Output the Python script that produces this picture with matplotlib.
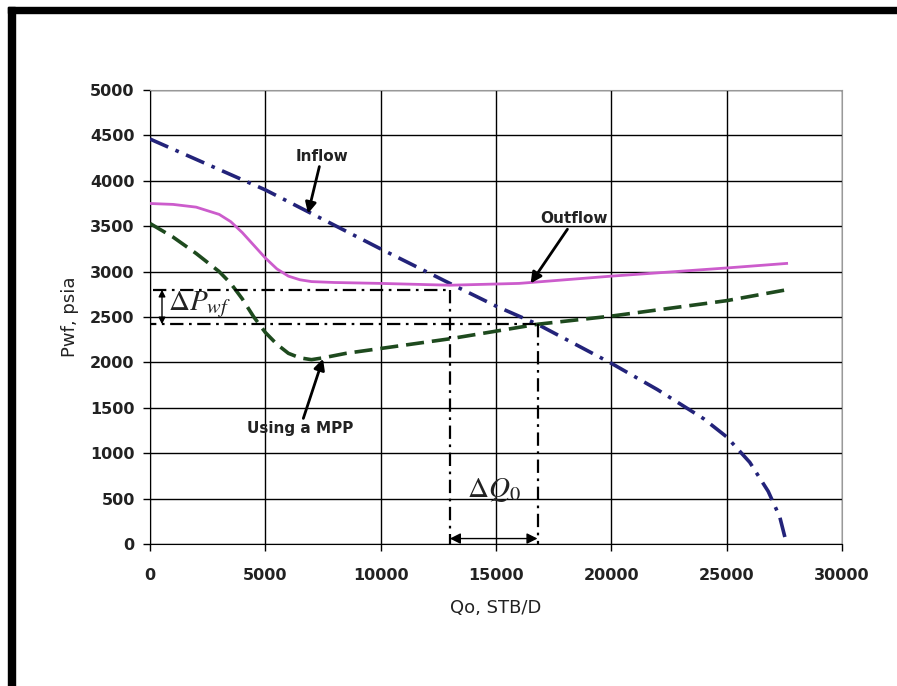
import matplotlib
matplotlib.use("Agg")
import matplotlib.pyplot as plt
from matplotlib.patches import Rectangle

plt.rcParams['font.family'] = ['DejaVu Sans']
plt.rcParams['mathtext.fontset'] = 'stix'

# --- data ---
inflow_q = [0, 2500, 5000, 7000, 10000, 13000, 15000, 16800, 20000, 22000, 24000, 25000, 26000, 26800, 27300, 27600]
inflow_p = [4460, 4180, 3900, 3640, 3250, 2870, 2620, 2420, 1990, 1700, 1380, 1180, 900, 580, 300, 0]

outflow_q = [0, 1000, 2000, 3000, 3500, 4000, 4500, 5000, 5500, 6000, 6500, 7000, 8000, 10000, 13000, 16000, 17000, 20000, 25000, 27600]
outflow_p = [3750, 3740, 3710, 3630, 3550, 3430, 3290, 3150, 3030, 2950, 2910, 2890, 2880, 2870, 2850, 2870, 2890, 2950, 3040, 3090]

mpp_q = [0, 1000, 2000, 3000, 3500, 4000, 4500, 5000, 5500, 6000, 6500, 7000, 7500, 8500, 13000, 16800, 20000, 25000, 27600]
mpp_p = [3530, 3380, 3200, 3000, 2870, 2700, 2500, 2330, 2200, 2100, 2050, 2030, 2050, 2100, 2260, 2420, 2510, 2680, 2800]

q_low, q_high = 13000, 16800
p_high, p_low = 2800, 2420

x_ticks = [0, 5000, 10000, 15000, 20000, 25000, 30000]
y_ticks = [0, 500, 1000, 1500, 2000, 2500, 3000, 3500, 4000, 4500, 5000]

fig = plt.figure(figsize=(8.97, 6.86), dpi=100)
ax = fig.add_axes([150/897, 1-544/686, (842-150)/897, (544-90)/686])

ax.plot(inflow_q, inflow_p, color='#23237A', lw=2.6, linestyle=(0, (5.5, 2.2, 1.0, 2.2)), zorder=4)
ax.plot(outflow_q, outflow_p, color='#CC5CCC', lw=2.0, zorder=4)
ax.plot(mpp_q, mpp_p, color='#1E4A1E', lw=2.6, linestyle=(0, (5, 2.2)), zorder=4)

refstyle = dict(color='black', lw=1.6, linestyle=(0, (6, 2.5, 1.2, 2.5)), zorder=5)
ax.plot([150, q_low], [p_high, p_high], **refstyle)
ax.plot([q_low, q_low], [p_high, 0], **refstyle)
ax.plot([-300, q_high], [p_low, p_low], **refstyle)
ax.plot([q_high, q_high], [p_low, 0], **refstyle)

# delta arrows
ax.annotate('', xy=(520, p_low), xytext=(520, p_high),
            arrowprops=dict(arrowstyle='<|-|>', color='black', lw=1.0, mutation_scale=10,
                            shrinkA=0, shrinkB=0), zorder=6)
ax.annotate('', xy=(q_high, 60), xytext=(q_low, 60),
            arrowprops=dict(arrowstyle='<|-|>', color='black', lw=1.0, mutation_scale=16,
                            shrinkA=0, shrinkB=0), zorder=6)
ax.text(2150, 2640, r'$\Delta P_{wf}$', fontsize=21, ha='center', va='center', color='#222222', zorder=6)
ax.text(14900, 600, r'$\Delta Q_{0}$', fontsize=21, ha='center', va='center', color='#222222', zorder=6)

# annotations
arr = dict(arrowstyle='-|>', color='black', lw=2.0, mutation_scale=16, shrinkA=0, shrinkB=0)
ax.annotate('Inflow', xy=(6850, 3640), xytext=(7450, 4270), fontsize=11, fontweight='bold',
            ha='center', va='center', color='#222222', arrowprops=arr, zorder=7)
ax.annotate('Outflow', xy=(16500, 2870), xytext=(18400, 3580), fontsize=11, fontweight='bold',
            ha='center', va='center', color='#222222', arrowprops=arr, zorder=7)
ax.annotate('Using a MPP', xy=(7500, 2040), xytext=(6500, 1270), fontsize=11, fontweight='bold',
            ha='center', va='center', color='#222222', arrowprops=arr, zorder=7)

ax.set_xlim(0, 30000)
ax.set_ylim(0, 5000)
ax.set_xticks(x_ticks)
ax.set_yticks(y_ticks)
ax.set_xticklabels([str(v) for v in x_ticks], fontsize=11.5, fontweight='bold', color='#222222')
ax.set_yticklabels([str(v) for v in y_ticks], fontsize=11.5, fontweight='bold', color='#222222')
ax.tick_params(axis='both', direction='out', length=5, width=1, color='black')
ax.tick_params(axis='x', pad=12)
ax.tick_params(axis='y', pad=6)
ax.grid(True, color='black', lw=1.0, zorder=1)
ax.set_axisbelow(True)
for s in ['top', 'right']:
    ax.spines[s].set_color('#999999')
for s in ['left', 'bottom']:
    ax.spines[s].set_color('black')

ax.set_xlabel('Qo, STB/D', fontsize=13, labelpad=12, color='#222222')
ax.set_ylabel('Pwf, psia', fontsize=13, labelpad=8, color='#222222')

# border bands
fig.patches.append(Rectangle((8/897, 0), 7/897, 1 - 7/686, transform=fig.transFigure,
                             color='black', zorder=0))
fig.patches.append(Rectangle((8/897, 1 - 13/686), 1, 6/686, transform=fig.transFigure,
                             color='black', zorder=0))

fig.savefig('out.png', dpi=100)
